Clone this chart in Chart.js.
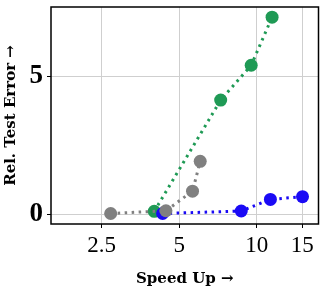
<!DOCTYPE html>
<html><head><meta charset="utf-8">
<script src="https://cdn.jsdelivr.net/npm/chart.js@4/dist/chart.umd.min.js"></script>
<style>html,body{margin:0;padding:0;background:#fff}#w{width:325px;height:296px}</style>
</head><body><div id="w"><canvas id="c" width="325" height="296"></canvas></div>
<script>
const grayX = [2.71, 4.44, 5.63, 6.03];
const grayY = [0.02, 0.12, 0.83, 1.91];
const blueX = [4.31, 8.7, 11.29, 15.04];
const blueY = [0.02, 0.11, 0.53, 0.63];
const greenX = [4.0, 7.24, 9.51, 11.46];
const greenY = [0.1, 4.13, 5.39, 7.13];
const xTicks = [2.5, 5, 10, 15];
const yTicks = [0, 5];
const xTitle = 'Speed Up \u2192';
const yTitle = 'Rel. Test Error \u2192';

const pts = (xs, ys) => xs.map((x, i) => ({x, y: ys[i]}));
const ds = (label, xs, ys, color) => ({
  label, data: pts(xs, ys), borderColor: color, backgroundColor: color,
  borderWidth: 3, borderDash: [2.5, 4.5], borderCapStyle: 'butt',
  pointRadius: 6.5, pointHoverRadius: 6.5, pointBorderWidth: 0, showLine: true, tension: 0
});
const frame = {
  id: 'frame',
  afterDraw(chart) {
    const a = chart.chartArea, ctx = chart.ctx;
    ctx.save(); ctx.strokeStyle = '#000'; ctx.lineWidth = 1.5;
    ctx.strokeRect(a.left, a.top, a.right - a.left, a.bottom - a.top);
    ctx.restore();
  }
};
const serif = "'Liberation Serif', 'DejaVu Serif', serif";
const titleFont = "'DejaVu Serif', serif";
new Chart(document.getElementById('c'), {
  type: 'scatter',
  data: { datasets: [
    ds('gray', grayX, grayY, '#808080'),
    ds('blue', blueX, blueY, '#1a0af5'),
    ds('green', greenX, greenY, '#1f9a55')
  ]},
  options: {
    responsive: false, animation: false, devicePixelRatio: 1,
    layout: { padding: { top: 7, right: 5, left: 0, bottom: 0 } },
    plugins: { legend: { display: false }, tooltip: { enabled: false } },
    scales: {
      x: {
        type: 'logarithmic', min: 1.59, max: 17.35,
        afterBuildTicks(s) { s.ticks = xTicks.map(v => ({value: v})); },
        afterFit(s) { s.height = 72; s.paddingLeft = 0; s.paddingRight = 0; },
        ticks: { color: '#000', font: { family: serif, size: 23 }, padding: 4, maxRotation: 0,
          callback: (v) => String(v) },
        grid: { color: '#cfcfcf', lineWidth: 1, tickLength: 4, tickColor: '#000' },
        border: { display: false },
        title: { display: true, text: xTitle, color: '#000', font: { family: titleFont, size: 15, weight: 'bold' }, padding: { top: 0, bottom: 8 } }
      },
      y: {
        min: -0.36, max: 7.5,
        afterBuildTicks(s) { s.ticks = yTicks.map(v => ({value: v})); },
        afterFit(s) { s.width = 51; s.paddingTop = 0; s.paddingBottom = 0; },
        ticks: { color: '#000', font: { family: serif, size: 27, weight: 'bold' }, padding: 4 },
        grid: { color: '#cfcfcf', lineWidth: 1, tickLength: 4, tickColor: '#000' },
        border: { display: false },
        title: { display: true, text: yTitle, color: '#000', font: { family: titleFont, size: 15, weight: 'bold' }, padding: { top: 2, bottom: 0 } }
      }
    }
  },
  plugins: [frame]
});
</script></body></html>
